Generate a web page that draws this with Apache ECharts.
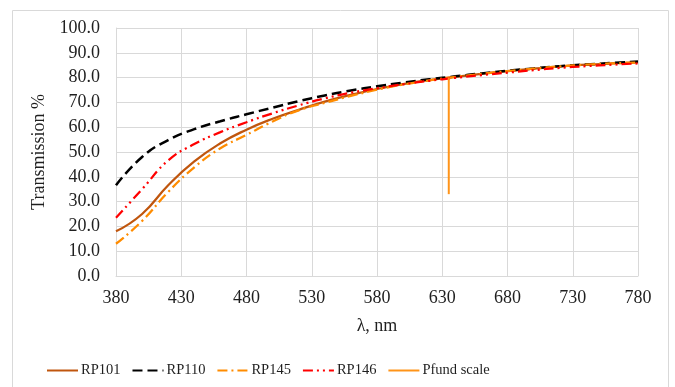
<!DOCTYPE html>
<html><head><meta charset="utf-8">
<script src="https://cdn.jsdelivr.net/npm/echarts@6/dist/echarts.min.js"></script>
<style>html,body{margin:0;padding:0;background:#fff}#c{width:675px;height:387px}</style>
</head><body><div id="c"></div>
<script>
const wavelengths = [380,400,420,440,460,480,500,520,540,560,580,600,620,640,660,680,700,720,740,760,780];
const rp101 = [18,25,36.6,46.2,53.5,59,63.4,67,70.3,73,75.4,77.4,79,80.3,81.5,82.6,83.6,84.5,85.2,85.7,86.1];
const rp110 = [36.6,48,54.8,59.2,62.4,65.2,67.9,70.5,72.8,74.8,76.5,78,79.3,80.5,81.7,82.8,83.7,84.6,85.3,85.9,86.5];
const rp145 = [13,22.2,33.9,43.8,51.5,56.9,62.3,66.8,69.8,72.6,75.1,77.2,78.9,80.3,81.5,82.6,83.6,84.5,85.2,85.7,86.1];
const rp146 = [23.5,35,46.6,53.2,58,62,65.6,68.8,71.6,73.9,75.7,77.3,78.7,79.9,81,82,83,83.9,84.6,85.2,85.7];
const pfundX = [635,635];
const pfundY = [33,80];
const xTicks = [380,430,480,530,580,630,680,730,780];
const yTicks = [0,10,20,30,40,50,60,70,80,90,100];

const pair = (xs, ys) => xs.map((x,i)=>[x, ys[i]]);
const font = "'Liberation Serif', 'Times New Roman', serif";
const txt = '#1f1f1f';
const chart = echarts.init(document.getElementById('c'), null, {renderer:'canvas'});
function mk(name, ys, color, type, width){
  return {name, type:'line', data: pair(wavelengths, ys), smooth:0.5, symbol:'none',
    lineStyle:{color, width, type}, itemStyle:{color}};
}
chart.setOption({
  animation:false,
  textStyle:{fontFamily:font},
  graphic:[{type:'rect', shape:{x:12.5,y:10.5,width:656,height:390}, style:{fill:'none', stroke:'#d9d9d9', lineWidth:1}, silent:true}],
  grid:{left:116, right:37, top:28, bottom:111, containLabel:false},
  xAxis:{type:'value', min:xTicks[0], max:xTicks[xTicks.length-1], interval:xTicks[1]-xTicks[0],
    name:'λ, nm', nameLocation:'middle', nameGap:41,
    nameTextStyle:{fontFamily:font, fontSize:18, color:txt},
    axisLine:{show:true, lineStyle:{color:'#d9d9d9'}}, axisTick:{show:false},
    axisLabel:{fontFamily:font, fontSize:18, color:txt, margin:13},
    splitLine:{show:true, lineStyle:{color:'#d9d9d9', width:1}}},
  yAxis:{type:'value', min:yTicks[0], max:yTicks[yTicks.length-1], interval:yTicks[1]-yTicks[0],
    name:'Transmission %', nameLocation:'middle', nameGap:63, nameRotate:90,
    nameTextStyle:{fontFamily:font, fontSize:18, color:txt},
    axisLine:{show:true, lineStyle:{color:'#d9d9d9'}}, axisTick:{show:false},
    axisLabel:{fontFamily:font, fontSize:18, color:txt, margin:16, formatter:v=>v.toFixed(1)},
    splitLine:{show:true, lineStyle:{color:'#d9d9d9', width:1}}},
  legend:{bottom:4, left:41, itemWidth:31, itemHeight:10, itemGap:11,
    itemStyle:{opacity:0},
    textStyle:{fontFamily:font, fontSize:14.5, color:txt, padding:[0,0,0,-2]},
    data:['RP101','RP110','RP145','RP146','Pfund scale']},
  series:[
    mk('RP101', rp101, '#C0560E', 'solid', 2.25),
    mk('RP110', rp110, '#000000', [10,5], 2.5),
    mk('RP145', rp145, '#FF8C00', [10,4,2,4], 2.25),
    mk('RP146', rp146, '#FF0000', [10,4,2,4,2,4], 2.25),
    {name:'Pfund scale', type:'line', data: pair(pfundX, pfundY), symbol:'none',
      lineStyle:{color:'#FF9419', width:2}, itemStyle:{color:'#FF9419'}}
  ]
});
</script></body></html>
